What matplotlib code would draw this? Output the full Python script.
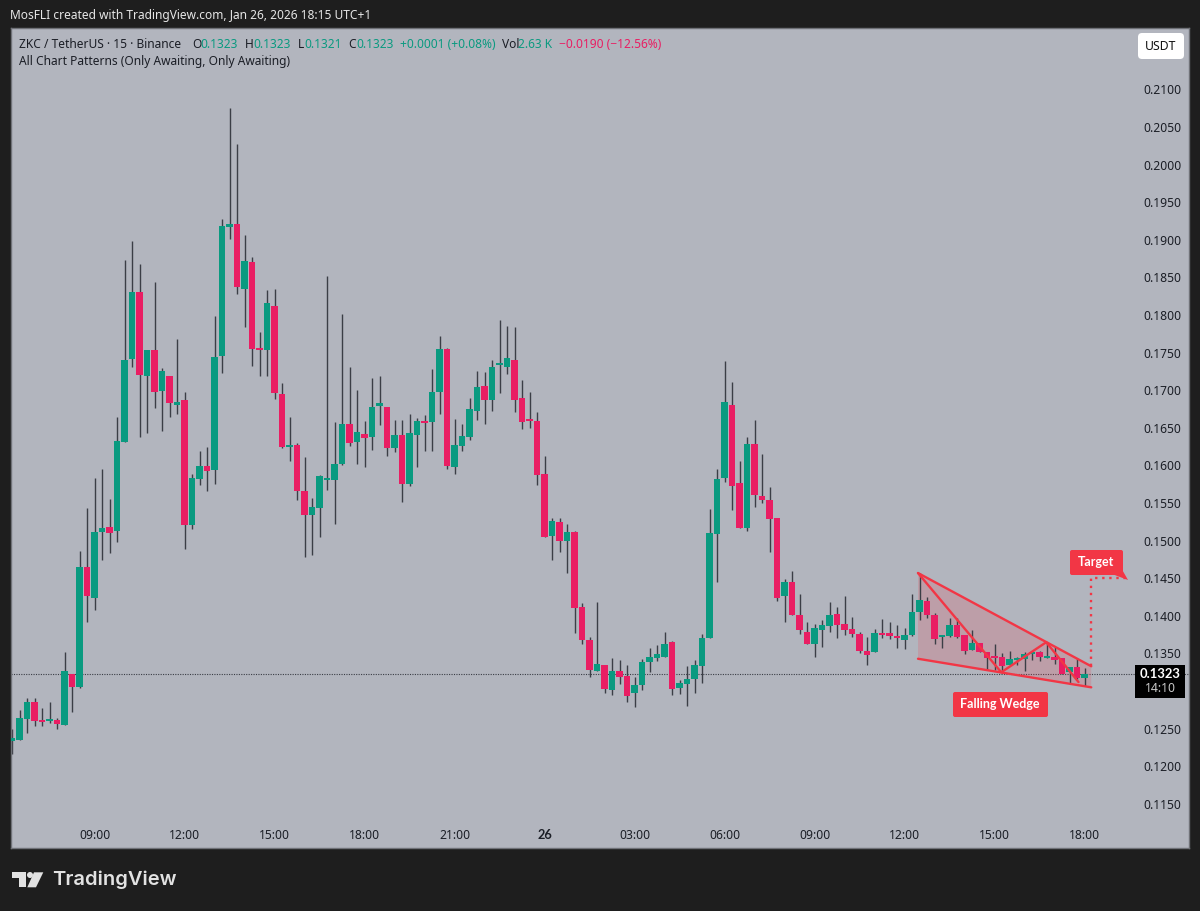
import numpy as np
import matplotlib
matplotlib.use('Agg')
import matplotlib.pyplot as plt
from matplotlib.patches import FancyBboxPatch, Polygon, Rectangle

# OHLC in ten-thousandths of a USDT, 15 minute bars
opens = [1233,1235,1263,1285,1261,1260,1261,1255,1323,1305,1465,1424,1511,1518,1513,1631,1742,1831,1719,1754,
         1699,1719,1680,1687,1521,1582,1599,1594,1746,1917,1921,1835,1871,1756,1753,1812,1695,1624,1627,1566,
         1534,1543,1581,1581,1602,1655,1631,1642,1638,1679,1678,1623,1640,1575,1640,1659,1658,1698,1755,1598,
         1626,1638,1672,1706,1687,1734,1731,1740,1690,1662,1659,1589,1506,1525,1499,1511,1412,1368,1327,1335,
         1301,1327,1320,1297,1308,1339,1344,1345,1365,1304,1309,1316,1333,1370,1509,1583,1680,1577,1517,1628,
         1559,1554,1530,1426,1445,1401,1378,1362,1381,1386,1402,1389,1382,1376,1353,1352,1377,1377,1373,1368,
         1374,1405,1420,1401,1372,1373,1388,1374,1354,1364,1352,1345,1345,1335,1341,1343,1349,1352,1344,1345,
         1344,1325,1332,1317]
highs = [1249,1275,1291,1291,1277,1285,1264,1352,1323,1486,1543,1583,1595,1555,1664,1873,1898,1868,1754,1844,
         1730,1719,1768,1698,1589,1619,1624,1799,1928,2075,2027,1906,1877,1777,1833,1835,1710,1664,1630,1611,
         1557,1587,1852,1658,1801,1731,1700,1659,1716,1719,1678,1660,1660,1668,1663,1667,1728,1772,1756,1662,
         1655,1690,1726,1724,1740,1793,1785,1784,1714,1698,1671,1613,1530,1530,1522,1513,1417,1372,1418,1335,
         1344,1341,1335,1319,1343,1357,1361,1378,1366,1315,1333,1341,1376,1542,1595,1739,1711,1606,1638,1660,
         1615,1571,1530,1449,1460,1429,1392,1389,1394,1418,1412,1426,1398,1378,1372,1382,1396,1392,1388,1384,
         1429,1457,1425,1404,1374,1397,1397,1374,1381,1364,1352,1362,1350,1353,1345,1352,1353,1353,1365,1358,
         1344,1332,1344,1331]
lows = [1216,1235,1244,1253,1253,1257,1249,1255,1272,1304,1392,1408,1474,1484,1498,1631,1731,1638,1643,1676,
        1646,1664,1668,1489,1515,1574,1566,1575,1723,1901,1828,1784,1732,1719,1719,1688,1623,1606,1554,1478,
        1481,1505,1567,1522,1601,1626,1602,1598,1620,1654,1613,1618,1551,1573,1598,1619,1619,1668,1595,1589,
        1619,1634,1660,1655,1672,1696,1722,1671,1648,1650,1574,1505,1474,1485,1457,1377,1362,1319,1327,1297,
        1295,1309,1285,1279,1301,1325,1340,1345,1295,1296,1280,1297,1311,1370,1445,1578,1541,1517,1513,1545,
        1550,1485,1420,1392,1401,1376,1362,1345,1358,1378,1370,1374,1372,1350,1335,1352,1370,1369,1357,1356,
        1373,1394,1397,1362,1357,1372,1370,1349,1354,1352,1328,1328,1324,1335,1335,1327,1341,1340,1344,1336,
        1323,1309,1316,1307]
closes = [1237,1264,1285,1260,1259,1261,1256,1327,1305,1465,1426,1511,1517,1510,1632,1740,1831,1720,1754,1698,
          1726,1683,1684,1521,1583,1599,1593,1744,1918,1921,1837,1872,1755,1753,1816,1696,1624,1627,1566,1534,
          1545,1586,1583,1602,1655,1630,1644,1636,1678,1683,1623,1640,1575,1643,1659,1656,1698,1755,1599,1627,
          1639,1675,1704,1687,1731,1735,1743,1687,1658,1659,1587,1505,1526,1499,1511,1410,1368,1328,1336,1303,
          1327,1319,1293,1308,1339,1345,1349,1362,1303,1311,1316,1335,1370,1510,1582,1684,1573,1517,1628,1561,
          1554,1529,1424,1445,1401,1381,1362,1384,1388,1401,1388,1381,1376,1353,1348,1377,1374,1373,1370,1374,
          1405,1421,1401,1369,1374,1388,1372,1353,1364,1352,1344,1344,1333,1343,1344,1349,1350,1345,1345,1342,
          1323,1332,1317,1323]

price_ticks = [0.2100,0.2050,0.2000,0.1950,0.1900,0.1850,0.1800,0.1750,0.1700,0.1650,0.1600,0.1550,
               0.1500,0.1450,0.1400,0.1350,0.1250,0.1200,0.1150]
time_ticks = [11,23,35,47,59,71,83,95,107,119,131,143]
time_labels = ['09:00','12:00','15:00','18:00','21:00','26','03:00','06:00','09:00','12:00','15:00','18:00']

last_price = 0.1323
target_price = 0.1450
# wedge pattern, (bar, price)
upper_line = [(120.8,0.1457),(143.9,0.1333)]
lower_line = [(120.8,0.1343),(143.9,0.1305)]
zigzag = [(120.8,0.1457),(131.9,0.1325),(137.9,0.1365),(142.2,0.1312)]

GREEN = '#0a9a80'
PINK = '#e91e63'
RED = '#f23645'
BG = '#b2b5be'
DARK = '#1e1e1e'
INK = '#1b1e26'
WICK = '#3b3e46'

plt.rcParams['font.family'] = ['Noto Sans', 'DejaVu Sans']

W, H = 1200, 911
fig = plt.figure(figsize=(W/100, H/100), dpi=100, facecolor=DARK)

# pane: x 11..1189, y 28..848 in picture pixels
left, right, top, bottom = 11, 1189, 28, 848
ax = fig.add_axes([left/W, 1-bottom/H, (right-left)/W, (bottom-top)/H], facecolor=BG)
ax.set_xlim((left-12)/7.5, (right-12)/7.5)
ax.set_ylim(0.2219-bottom/7520, 0.2219-top/7520)

o = np.array(opens)/10000
h = np.array(highs)/10000
l = np.array(lows)/10000
c = np.array(closes)/10000
x = np.arange(len(o))
up = c >= o
colors = np.where(up, GREEN, PINK)

ax.axhline(last_price, color='#3a3d45', lw=0.8, ls=(0, (1, 1.2)), zorder=1)
# falling wedge fill sits behind the candles
wedge = [upper_line[0], upper_line[1], lower_line[1], lower_line[0]]
ax.add_patch(Polygon(wedge, closed=True, fc=RED, ec='none', alpha=0.18, zorder=1.5))

ax.vlines(x, l, h, color=WICK, lw=1.0, zorder=2)
heights = np.maximum(np.abs(c-o), 0.00025)
ax.bar(x, heights, bottom=np.minimum(o, c), width=0.82, color=colors, lw=0, zorder=3)

for line in (upper_line, lower_line, zigzag):
    xs, ys = zip(*line)
    ax.plot(xs, ys, color=RED, lw=1.7, zorder=5, solid_capstyle='round')
ax.plot([143.9,143.9,148.7], [0.1333,target_price,target_price], color=RED, lw=1.7,
        ls=(0, (1, 2)), zorder=5)

ax.set_yticks(price_ticks)
ax.set_yticklabels(['%.4f' % p for p in price_ticks])
ax.yaxis.tick_right()
ax.tick_params(axis='y', length=0, pad=-33, labelsize=8.7, labelcolor=INK)
ax.set_xticks(time_ticks)
ax.set_xticklabels(time_labels)
ax.tick_params(axis='x', length=0, pad=-14, labelsize=8.7, labelcolor=INK)
for lab in ax.get_xticklabels():
    if lab.get_text() == '26':
        lab.set_fontweight('bold')
        lab.set_family('Lato')
        lab.set_fontsize(9.2)
for s in ax.spines.values():
    s.set_color('#6f7177')
    s.set_linewidth(1)

# overlay in picture pixels for the TradingView chrome
ov = fig.add_axes([0, 0, 1, 1], facecolor='none')
ov.set_xlim(0, W)
ov.set_ylim(H, 0)
ov.axis('off')

ov.text(10, 15, 'MosFLI created with TradingView.com, Jan 26, 2026 18:15 UTC+1',
        color='#e6e6e6', fontsize=8.6, va='center')

hdr = [(19,'ZKC / TetherUS · 15 · Binance',INK),(192,'O',INK),(200,'0.1323',GREEN),(245,'H',INK),
       (253,'0.1323',GREEN),(298,'L',INK),(304,'0.1321',GREEN),(348,'C',INK),(356,'0.1323',GREEN),
       (400,'+0.0001 (+0.08%)',GREEN),(502,'Vol',INK),(518,'2.63 K',GREEN),(559,'−0.0190 (−12.56%)',PINK)]
for hx, txt, col in hdr:
    ov.text(hx, 44, txt, color=col, fontsize=8.6, va='center')
ov.text(19, 62, 'All Chart Patterns (Only Awaiting, Only Awaiting)', color=INK, fontsize=8.6, va='center')

# USDT button
ov.add_patch(FancyBboxPatch((1140, 35), 42, 22, boxstyle='round,pad=2,rounding_size=4', fc='white', ec='none'))
ov.text(1161, 46, 'USDT', color='#111111', fontsize=8.8, ha='center', va='center')

# last price tag
ov.add_patch(Rectangle((1135, 665), 50, 33, fc='black', ec='none'))
ov.text(1160, 674, '0.1323', color='white', fontsize=9.4, fontweight='bold', family='Lato', ha='center', va='center')
ov.text(1160, 689, '14:10', color='#c8c8c8', fontsize=8.8, ha='center', va='center')

# pattern labels
ov.add_patch(FancyBboxPatch((955, 694), 91, 21, boxstyle='round,pad=2,rounding_size=2', fc=RED, ec='none'))
ov.text(1000, 704, 'Falling Wedge', color='white', fontsize=9.0, fontweight='bold', family='Lato', ha='center', va='center')
ov.add_patch(FancyBboxPatch((1072, 552), 49, 21, boxstyle='round,pad=2,rounding_size=2', fc=RED, ec='none'))
ov.add_patch(Polygon([(1112,574),(1120,566),(1128,580)], closed=True, fc=RED, ec='none'))
ov.text(1096, 562, 'Target', color='white', fontsize=9.0, fontweight='bold', family='Lato', ha='center', va='center')

# logo and wordmark
LOGO = '#e2e2e2'
ov.add_patch(Polygon([(12.3,872.3),(26,872.3),(26,887.3),(19,887.3),(19,878.3),(12.3,878.3)], closed=True, fc=LOGO, ec='none'))
ov.add_patch(plt.Circle((30,875), 3, fc=LOGO, ec='none'))
ov.add_patch(Polygon([(34,872.3),(43.3,872.3),(36,887.3),(27.3,887.3)], closed=True, fc=LOGO, ec='none'))
ov.text(52, 880, 'TradingView', color=LOGO, fontsize=14.5, fontweight='semibold', va='center', family='Inter')

fig.savefig('out.png', dpi=100, facecolor=DARK)
